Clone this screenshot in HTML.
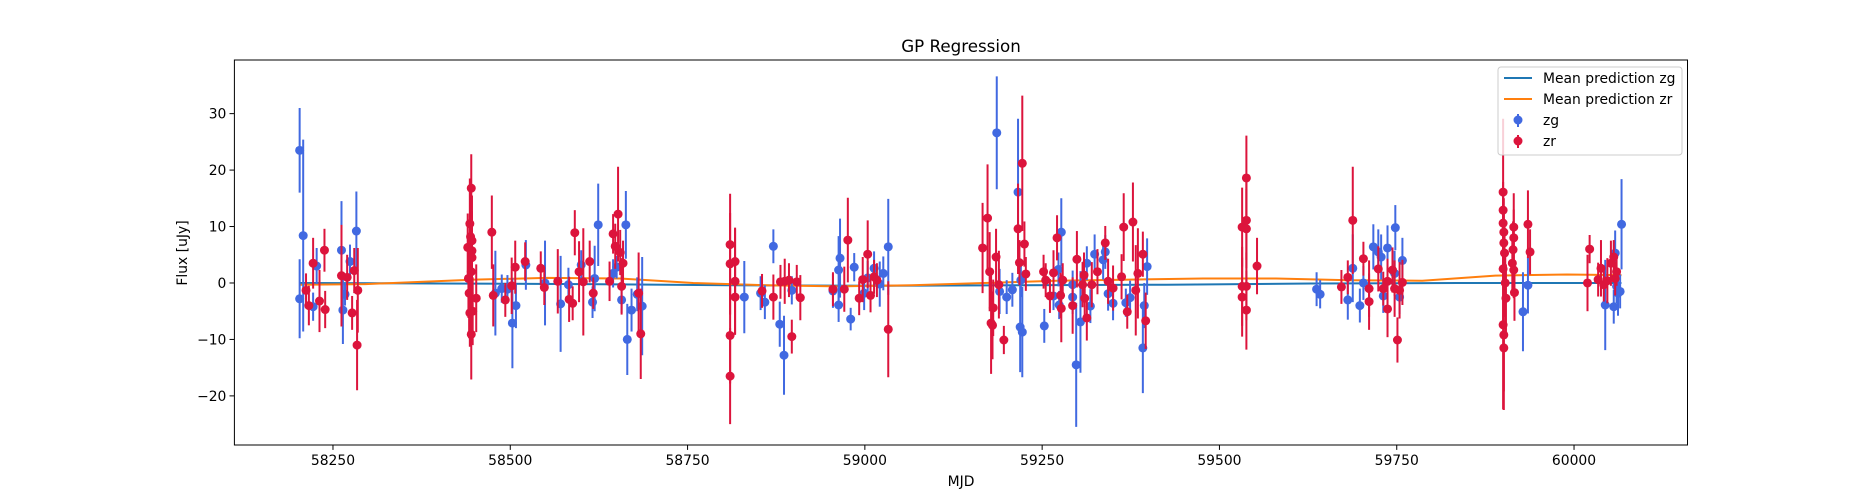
<!DOCTYPE html>
<html><head><meta charset="utf-8"><style>
html,body{margin:0;padding:0;background:#fff;}
svg{display:block;font-family:"DejaVu Sans","Liberation Sans",sans-serif;}
</style></head><body>
<svg id="chart" width="1875" height="500" viewBox="0 0 1875 500" xmlns="http://www.w3.org/2000/svg">
<rect width="1875" height="500" fill="#fff"/>
<text x="961" y="52" font-size="16.7" text-anchor="middle" fill="#000">GP Regression</text>
<text x="961" y="486" font-size="13.9" text-anchor="middle" fill="#000">MJD</text>
<text transform="translate(187,253) rotate(-90)" font-size="13.9" text-anchor="middle" fill="#000">Flux [uJy]</text>
<g id="plot"></g>
<g id="axes"></g>
<g>
<rect x="1498" y="67" width="184" height="88" rx="3" fill="#fff" fill-opacity="0.8" stroke="#ccc" stroke-width="1"/>
<g><line x1="1504" y1="78" x2="1532" y2="78" stroke="#1f77b4" stroke-width="2"/><text x="1543" y="83" font-size="13.9">Mean prediction zg</text></g>
<g><line x1="1504" y1="99" x2="1532" y2="99" stroke="#ff7f0e" stroke-width="2"/><text x="1543" y="104" font-size="13.9">Mean prediction zr</text></g>
<g><line x1="1518" y1="114" x2="1518" y2="127" stroke="#4169e1" stroke-width="2"/><circle cx="1518" cy="120" r="4.5" fill="#4169e1"/><text x="1543" y="125" font-size="13.9">zg</text></g>
<g><line x1="1518" y1="135" x2="1518" y2="148" stroke="#dc143c" stroke-width="2"/><circle cx="1518" cy="141" r="4.5" fill="#dc143c"/><text x="1543" y="146" font-size="13.9">zr</text></g>
</g>
</svg>
<script>
const zgMjd=[58203,58203,58208,58227,58222,58262,58264,58274,58283,58267,58479,58488,58496,58503,58508,58522,58549,58571,58582,58600,58616,58619,58624,58645,58650,58657,58663,58665,58671,58679,58686,58830,58853,58859,58871,58880,58886,58897,58955,58963,58965,58963,58980,58985,58999,59004,59013,59021,59026,59033,59186,59190,59200,59208,59219,59216,59222,59220,59253,59266,59274,59277,59273,59293,59293,59298,59304,59313,59318,59324,59336,59339,59343,59350,59368,59374,59392,59394,59398,59637,59642,59681,59688,59698,59703,59717,59724,59728,59731,59737,59748,59747,59754,59758,59928,59935,60044,60056,60058,60060,60062,60065,60067];
const zgFlux=[23.5,-2.8,8.4,3,-4.2,5.8,-4.8,3.8,9.2,-2,-1.8,-1,-1.1,-7.1,-4,3.2,0,-3.7,-0.3,3.2,-3.4,0.8,10.3,1.7,2.8,-3,10.3,-10,-4.8,-2,-4.1,-2.5,-1.8,-3.4,6.5,-7.3,-12.8,-1.3,-1.4,2.3,4.4,-3.9,-6.4,2.8,-1.8,0.9,2.6,-0.2,1.7,6.4,26.6,-1.5,-2.5,-1.2,-7.8,16.1,-8.7,0.5,-7.6,-2.3,-3.9,9,2.4,-0.3,-2.5,-14.5,-6.9,3.5,-4.1,5.1,4.1,5.5,-1.9,-3.6,-3.5,-2.6,-11.5,-4,2.9,-1.1,-2,-3,2.6,-4,0,6.4,5.5,4.6,-2.3,6.2,9.8,1.7,-2.5,4,-5.1,-0.4,-3.9,-4.2,5.3,-0.6,-1.8,-1.5,10.4];
const zgErr=[7.5,7,17,3.2,2.5,8.7,6,3,7,2,7.5,2.5,2.5,8,4,4.4,7.5,8.5,3,2.6,2.8,5.8,7.3,2.5,2,2.3,6,6.3,3.8,3,8.7,6.4,3,3,3,4,7,2.5,3,6,7,3,2,2.5,3,3,3,4,3,8.5,10,4,3,3,8,13,8,3,3,2.5,2.5,6,3,2.5,3,11,9,3,3,3.5,3.5,3,3,3,2.5,3,8,4,5,3,2.5,3.5,6,3,3,4,4,4,3,4,4,4,3,4,7,5,8,3,4,3,4,3,8];
const zrMjd=[58212,58216,58222,58231,58238,58239,58262,58270,58277,58280,58284,58285,58440,58441,58442,58443,58443,58444,58445,58446,58446,58446,58445,58445,58447,58452,58474,58476,58493,58502,58507,58521,58543,58548,58567,58583,58588,58591,58597,58603,58612,58617,58640,58645,58648,58652,58655,58657,58659,58681,58684,58810,58810,58810,58810,58817,58817,58817,58855,58871,58881,58887,58893,58897,58904,58909,58955,58971,58976,58992,58997,59004,59008,59013,59017,59033,59166,59173,59176,59178,59180,59181,59185,59189,59196,59216,59218,59222,59225,59227,59252,59255,59261,59266,59271,59276,59277,59279,59293,59299,59307,59309,59310,59313,59320,59328,59339,59343,59350,59365,59362,59370,59378,59382,59385,59392,59396,59532,59538,59538,59538,59532,59538,59532,59538,59553,59672,59681,59688,59703,59711,59711,59724,59731,59737,59737,59744,59747,59751,59754,59758,59900,59900,59900,59901,59901,59900,59900,59901,59901,59902,59903,59904,59913,59915,59915,59915,59916,59914,59935,59938,60019,60022,60034,60038,60042,60047,60052,60056,60058,60060];
const zrFlux=[-1.3,-4,3.5,-3.2,5.8,-4.7,1.3,1,-5.3,2.2,-11,-1.3,6.3,0.8,-1.8,-5.3,10.5,8.2,16.8,7.5,5.7,4.5,2,-9.1,-5,-2.7,9,-2.2,-3,-0.5,2.8,3.8,2.6,-0.8,0.3,-2.9,-3.6,8.9,2,0.2,3.8,-1.8,0.3,8.7,6.5,12.2,5.4,-0.6,3.5,-1.8,-9,6.8,3.4,-9.3,-16.5,3.8,0.3,-2.5,-1.4,-2.5,0.2,0.3,0.5,-9.5,0.2,-2.6,-1.1,-1.1,7.6,-2.7,0.6,5.1,-2.2,1.1,0.5,-8.2,6.2,11.5,2,-7.1,-7.5,-4.4,4.6,-0.3,-10.1,9.6,3.6,21.2,6.9,1.6,2,0.5,-2.3,1.8,8,-2.2,-4.5,0.5,-4,4.2,-0.3,1.4,-2.7,-6.2,-0.3,2,7.1,0.3,-0.9,9.9,1.1,-5.1,10.8,-1.3,1.7,5.1,-6.7,9.9,18.6,11.1,9.6,-0.6,-0.6,-2.5,-4.8,3,-0.7,1,11.1,4.3,-3.3,-1,2.5,-1,-4.6,0.3,2.3,-1,-10.1,-1.3,0.1,16.1,12.9,10.6,9,7.1,2.5,-7.4,-9.2,-11.5,5.3,0,-2.7,3.5,9.9,8,2.3,-1.7,5.9,10.4,5.5,0,6,0.6,2.6,-0.3,0.4,3.5,4.6,0.8,2];
const zrErr=[3,3.5,4.5,5.5,3.8,3.3,9,4,3,4,8,7.5,6,7,8,6,8,8,6,8,7,6,5,8,6,6,6.5,5.5,3,5,4.7,3.4,3,3.1,5.7,4,3,4,5.4,9.5,3.7,2.8,3.5,3.5,4,8.4,4,5,4,7.2,8,9,9,8.5,8.5,5.8,9.5,6.5,3,4,3,4,3,3,3,4,3,4,7.5,3,4,6,3,3,3,8.5,8,9.5,7,9,6,5,5,6,2.5,8,4,12,4,3,3,3,3,4,4,4,6,3,5,5,4,4,4,4,4,4,3,4,4,6,4,3,7,8,8,4,5,7,7.5,7,7,7,6,7,7,5,3,3,9.5,3,5,5,4,3,5,4,4,5,4,5,4,13,5,5,6,6,10,15,10,11,6,6,6,5,6,5,5,5,5,6,4,5,2.5,3,5,3,4,4,3,3,2.5];
const zgGpMjd=[58203,58398,58604,58809,59014,59220,59425,59630,59836,60041,60067];
const zgGpVal=[0,-0.1,-0.2,-0.4,-0.5,-0.4,-0.3,-0.1,0,0,0];
const zrGpMjd=[58203,58296,58450,58552,58655,58758,58860,58963,59066,59168,59271,59374,59477,59580,59683,59786,59889,59990,60067];
const zrGpVal=[-0.3,-0.2,0.6,0.9,0.8,0,-0.4,-0.6,-0.4,0,0.4,0.6,0.8,0.8,0.5,0.4,1.3,1.5,1.4];
const xTicks=[58250,58500,58750,59000,59250,59500,59750,60000];
const yTicks=[-20,-10,0,10,20,30];

const L=234.4,R=1687.5,T=60,B=445;
const xMin=58111,xMax=60160,yMin=-28.7,yMax=39.5;
function sx(v){return L+(v-xMin)/(xMax-xMin)*(R-L);}
function sy(v){return B-(v-yMin)/(yMax-yMin)*(B-T);}
const NS='http://www.w3.org/2000/svg';
function mk(tag,attrs,parent){const e=document.createElementNS(NS,tag);for(const k in attrs)e.setAttribute(k,attrs[k]);parent.appendChild(e);return e;}
const plot=document.getElementById('plot');
const axes=document.getElementById('axes');

function gp(mj,vals,color,name){
  const pts=mj.map((m,i)=>sx(m).toFixed(1)+','+sy(vals[i]).toFixed(1)).join(' ');
  const pl=mk('polyline',{points:pts,fill:'none',stroke:color,'stroke-width':2},plot);
  
  
}
function series(mj,fl,er,color,name){
  const g=mk('g',{},plot);
  
  
  for(let i=0;i<mj.length;i++){
    const x=sx(mj[i]);
    const ln=mk('line',{x1:x,x2:x,y1:sy(fl[i]-er[i]),y2:sy(fl[i]+er[i]),stroke:color,'stroke-width':2},g);
    
    
    const c=mk('circle',{cx:x,cy:sy(fl[i]),r:4.5,fill:color},g);
    
    
  }
}
gp(zgGpMjd,zgGpVal,'#1f77b4','mean-prediction-zg-line');
gp(zrGpMjd,zrGpVal,'#ff7f0e','mean-prediction-zr-line');
series(zgMjd,zgFlux,zgErr,'#4169e1','zg-series');
series(zrMjd,zrFlux,zrErr,'#dc143c','zr-series');

const frame=mk('rect',{x:L,y:T,width:R-L,height:B-T,fill:'none',stroke:'#000','stroke-width':1},axes);


xTicks.forEach(v=>{
  const x=sx(v);
  const t=mk('line',{x1:x,x2:x,y1:B,y2:B+4.9,stroke:'#000','stroke-width':1},axes);
  
  
  const lb=mk('text',{x:x,y:B+20,'font-size':13.9,'text-anchor':'middle'},axes);
  lb.textContent=v;
  
  
});
yTicks.forEach(v=>{
  const y=sy(v);
  const t=mk('line',{x1:L-4.9,x2:L,y1:y,y2:y,stroke:'#000','stroke-width':1},axes);
  
  
  const lb=mk('text',{x:L-8,y:y+5,'font-size':13.9,'text-anchor':'end'},axes);
  lb.textContent=v<0?'\u2212'+Math.abs(v):v;
  
  
});
</script>
</body></html>
